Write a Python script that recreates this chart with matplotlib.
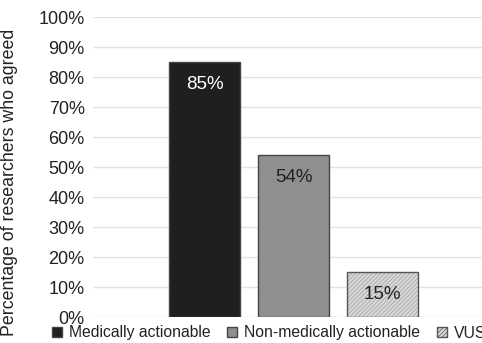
import matplotlib
matplotlib.use("Agg")
import matplotlib.pyplot as plt
from matplotlib.patches import Patch

categories = ["Medically actionable", "Non-medically actionable", "VUS"]
values = [85, 54, 15]
labels = ["85%", "54%", "15%"]
yticks = [0, 10, 20, 30, 40, 50, 60, 70, 80, 90, 100]

plt.rcParams['font.family'] = ['Liberation Sans', 'DejaVu Sans']
plt.rcParams['hatch.linewidth'] = 0.5

W, H = 482, 343
fig = plt.figure(figsize=(W/100, H/100), dpi=100)
AW = W - 93
ax = fig.add_axes([93/W, 1-317/H, AW/W, 300/H])

face = ['#1e1f21', '#8f8f8f', '#d8d8d8']
hatch = [None, None, '////////']
txtc = ['white', '#222222', '#222222']
x = list(range(len(values)))
for i, v in enumerate(values):
    if hatch[i]:
        ax.bar(x[i], v, width=0.8, color=face[i], edgecolor='#a0a0a0', hatch=hatch[i], linewidth=0, zorder=2)
        ax.bar(x[i], v, width=0.8, fill=False, edgecolor='#555555', linewidth=1.0, zorder=3)
    else:
        ax.bar(x[i], v, width=0.8, color=face[i], edgecolor='#444444', linewidth=1.0, zorder=2)
    ax.text(x[i], v - 7.4, labels[i], ha='center', va='center', color=txtc[i], fontsize=13.5, zorder=4)

ax.set_xlim(-1.253, 3.118)
ax.set_ylim(0, 100)
ax.set_yticks(yticks)
ax.set_yticklabels([f"{t}%" for t in yticks], fontsize=13, color='#222222')
ax.set_xticks([])
ax.tick_params(axis='y', length=0, pad=6)
for s in ax.spines.values():
    s.set_visible(False)
ax.yaxis.grid(True, color='#e3e3e3', linewidth=1.0, zorder=0)
ax.set_axisbelow(True)
ax.set_ylabel("Percentage of researchers who agreed", fontsize=12.8, color='#222222')
ax.yaxis.set_label_coords(-(93-18)/AW, (317-182)/300)

handles = [Patch(facecolor=face[0], edgecolor='#444444'),
           Patch(facecolor=face[1], edgecolor='#444444'),
           Patch(facecolor=face[2], edgecolor='#555555', hatch='////////')]
leg = fig.legend(handles, categories, loc='center left', bbox_to_anchor=(52/W, 1-333/H),
           ncol=3, frameon=False, fontsize=11.3, handlelength=0.64, handleheight=0.64,
           handletextpad=0.45, columnspacing=1.05, borderpad=0, borderaxespad=0)
for t in leg.get_texts():
    t.set_color('#222222')

fig.savefig("out.png", dpi=100)
